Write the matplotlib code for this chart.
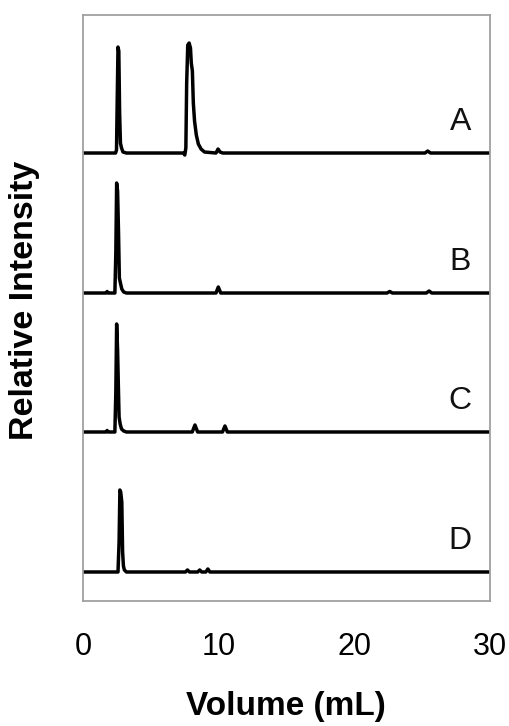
import matplotlib
matplotlib.use("Agg")
import matplotlib.pyplot as plt

plt.rcParams['font.family'] = ['Liberation Sans', 'DejaVu Sans']

# Trace labels and vertical offsets (stacked chromatograms)
labels = ["A", "B", "C", "D"]
offsets = [4.48, 3.08, 1.69, 0.29]

# Chromatogram traces: volume (mL) and relative intensity
A_vol = [0, 2.40, 2.47, 2.53, 2.58, 2.64, 2.70, 2.76, 2.84, 2.95, 3.20, 7.40, 7.50, 7.58, 7.64,
         7.72, 7.82, 7.92, 7.98, 8.06, 8.13, 8.22, 8.35, 8.50, 8.70, 8.95, 9.80, 9.95, 10.10,
         10.30, 25.20, 25.40, 25.60, 30]
A_int = [0, 0, 0.03, 0.60, 1.06, 1.02, 0.40, 0.10, 0.05, 0.01, 0, 0, -0.02, 0.05, 0.70,
         1.08, 1.10, 1.05, 0.90, 0.82, 0.50, 0.32, 0.18, 0.09, 0.04, 0.01, 0, 0.04, 0.01,
         0, 0, 0.02, 0, 0]

B_vol = [0, 1.70, 1.78, 1.86, 2.35, 2.42, 2.48, 2.55, 2.62, 2.68, 2.76, 2.86, 3.00, 3.20,
         9.80, 9.97, 10.15, 22.40, 22.60, 22.80, 25.30, 25.50, 25.70, 30]
B_int = [0, 0, 0.015, 0, 0, 0.40, 1.10, 1.02, 0.60, 0.15, 0.10, 0.04, 0.01, 0,
         0, 0.06, 0, 0, 0.015, 0, 0, 0.02, 0, 0]

C_vol = [0, 1.70, 1.78, 1.86, 2.35, 2.42, 2.48, 2.55, 2.60, 2.66, 2.74, 2.84, 3.00, 3.20,
         8.05, 8.25, 8.45, 10.28, 10.46, 10.64, 30]
C_int = [0, 0, 0.015, 0, 0, 0.40, 1.08, 0.82, 0.50, 0.15, 0.08, 0.03, 0.01, 0,
         0, 0.07, 0, 0, 0.06, 0, 0]

D_vol = [0, 2.58, 2.66, 2.72, 2.78, 2.86, 2.92, 2.98, 3.05, 3.20, 7.55, 7.70, 7.85, 8.45,
         8.60, 8.75, 9.05, 9.20, 9.35, 30]
D_int = [0, 0, 0.30, 0.82, 0.80, 0.70, 0.20, 0.06, 0.02, 0, 0, 0.02, 0, 0,
         0.02, 0, 0, 0.03, 0, 0]

vols = [A_vol, B_vol, C_vol, D_vol]
ints = [A_int, B_int, C_int, D_int]

x_ticks = [0, 10, 20, 30]

fig = plt.figure(figsize=(5.10, 7.26), dpi=100)
ax = fig.add_axes([0.1627, 0.1722, 0.7984, 0.8071])

for lab, off, v, it in zip(labels, offsets, vols, ints):
    ax.plot(v, [off + y for y in it], color="black", lw=2.5, solid_joinstyle="round")
    ax.text(28.6, off + 0.31, lab, ha="right", va="center", fontsize=23, color="#111111")

ax.set_xlim(0, 30)
ax.set_ylim(0, 5.86)
ax.set_xticks(x_ticks)
ax.set_xticklabels([str(t) for t in x_ticks], fontsize=22)
ax.tick_params(axis="x", length=0, pad=22)
ax.set_yticks([])
for s in ax.spines.values():
    s.set_color("#a0a0a0")
    s.set_linewidth(1.3)

fig.text(286 / 510, 1 - 707 / 726, "Volume (mL)", fontsize=24, fontweight="bold",
         ha="center", va="center")
fig.text(25 / 510, 1 - 300 / 726, "Relative Intensity", fontsize=24.5, fontweight="bold",
         ha="center", va="center", rotation=90)

fig.savefig("out.png", dpi=100)
